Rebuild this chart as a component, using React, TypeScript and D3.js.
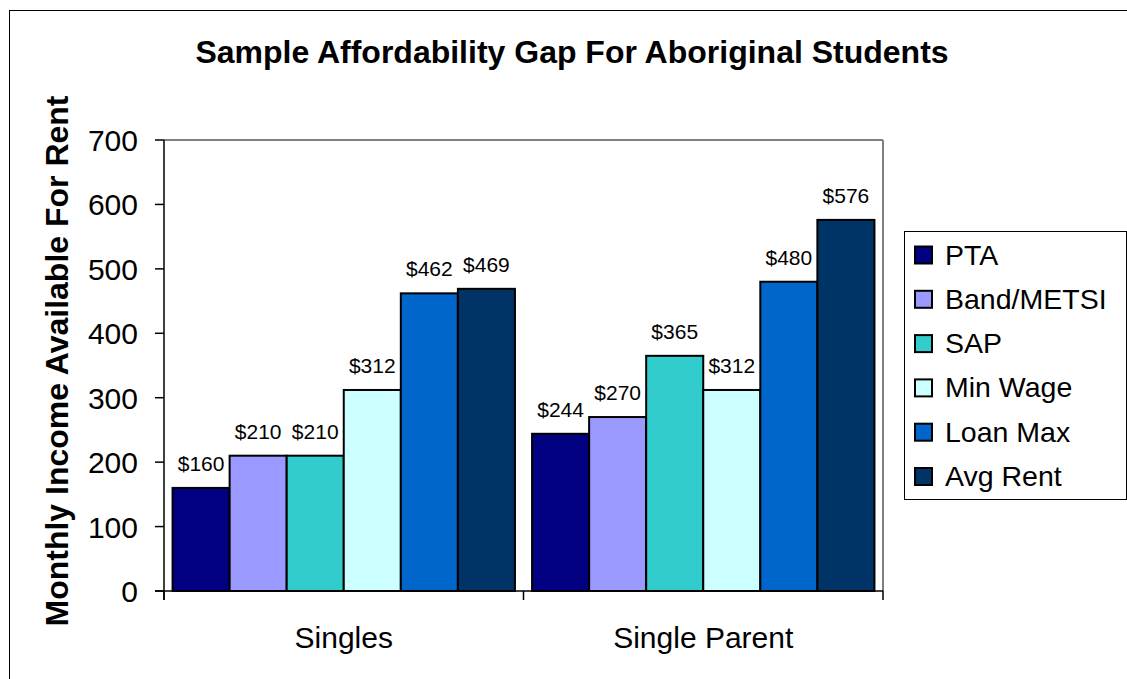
import React from "react";
import * as d3 from "d3";

const title = "Sample Affordability Gap For Aboriginal Students";
const yAxisTitle = "Monthly Income Available For Rent";
const categories = ["Singles", "Single Parent"];
const seriesNames = ["PTA", "Band/METSI", "SAP", "Min Wage", "Loan Max", "Avg Rent"];
const seriesColors = ["#000080", "#9999FF", "#33CCCC", "#CCFFFF", "#0066CC", "#003366"];
const singlesValues = [160, 210, 210, 312, 462, 469];
const singleParentValues = [244, 270, 365, 312, 480, 576];
const yTicks = [0, 100, 200, 300, 400, 500, 600, 700];

const W = 1127;
const H = 679;
const FONT = "'Liberation Sans', Arial, sans-serif";

export default function App() {
  const plot = { left: 164, right: 883, top: 140, bottom: 591 };
  const x0 = d3.scaleBand<string>().domain(categories).range([plot.left, plot.right]).paddingInner(0).paddingOuter(0);
  const x1 = d3.scaleBand<string>().domain(seriesNames).range([0, x0.bandwidth()]).paddingInner(0).paddingOuter(0.15);
  const y = d3.scaleLinear().domain([0, 700]).range([plot.bottom, plot.top]);
  const valuesByCat = [singlesValues, singleParentValues];

  const legendX = 904;
  const legendY = 231;
  const legendRow = 44.3;

  return (
    <svg width={W} height={H} style={{ position: "absolute", left: 0, top: 0, display: "block", background: "#fff" }} fontFamily={FONT}>
      <rect x={0} y={0} width={W} height={H} fill="#fff" />
      {/* outer chart border */}
      <rect x={9.5} y={10.5} width={W + 20} height={H + 20} fill="none" stroke="#000" strokeWidth={1} />

      <text x={572} y={63} textAnchor="middle" fontSize={32} fontWeight="bold" fill="#000">{title}</text>

      <text transform={`translate(68,${361}) rotate(-90)`} textAnchor="middle" fontSize={32} fontWeight="bold" fill="#000">{yAxisTitle}</text>

      {/* plot area border (top/right gray) */}
      <line x1={plot.left} x2={plot.right} y1={plot.top} y2={plot.top} stroke="#808080" strokeWidth={2} />
      <line x1={plot.right} x2={plot.right} y1={plot.top} y2={plot.bottom} stroke="#808080" strokeWidth={2} />

      {/* bars */}
      {categories.map((c, ci) => (
        <g key={c} transform={`translate(${x0(c)},0)`}>
          {seriesNames.map((s, si) => {
            const v = valuesByCat[ci][si];
            const bx = x1(s)!;
            return (
              <g key={s}>
                <rect x={bx} y={y(v)} width={x1.bandwidth()} height={y(0) - y(v)} fill={seriesColors[si]} stroke="#000" strokeWidth={2} />
                <text x={bx + x1.bandwidth() / 2} y={y(v) - 17} textAnchor="middle" fontSize={21} fill="#000">{"$" + v}</text>
              </g>
            );
          })}
        </g>
      ))}

      {/* y axis */}
      <line x1={plot.left} x2={plot.left} y1={plot.top} y2={plot.bottom + 9} stroke="#000" strokeWidth={1.5} />
      {yTicks.map((t) => (
        <g key={t}>
          <line x1={plot.left - 9} x2={plot.left} y1={y(t)} y2={y(t)} stroke="#000" strokeWidth={1.5} />
          <text x={138} y={y(t) + 11} textAnchor="end" fontSize={30} fill="#000">{t}</text>
        </g>
      ))}

      {/* x axis */}
      <line x1={plot.left - 9} x2={plot.right} y1={plot.bottom} y2={plot.bottom} stroke="#000" strokeWidth={1.5} />
      {[plot.left, x0(categories[1])!, plot.right].map((xv, i) => (
        <line key={i} x1={xv} x2={xv} y1={plot.bottom} y2={plot.bottom + 9} stroke="#000" strokeWidth={1.5} />
      ))}
      {categories.map((c) => (
        <text key={c} x={x0(c)! + x0.bandwidth() / 2} y={648} textAnchor="middle" fontSize={30} fill="#000">{c}</text>
      ))}

      {/* legend */}
      <rect x={legendX + 0.5} y={legendY + 0.5} width={1126 - legendX} height={499 - legendY} fill="#fff" stroke="#000" strokeWidth={1} />
      {seriesNames.map((s, i) => {
        const base = 264.5 + i * legendRow;
        return (
          <g key={s}>
            <rect x={915} y={base - 18} width={17} height={17} fill={seriesColors[i]} stroke="#000" strokeWidth={2} />
            <text x={945} y={base} fontSize={28.5} fill="#000">{s}</text>
          </g>
        );
      })}
    </svg>
  );
}
